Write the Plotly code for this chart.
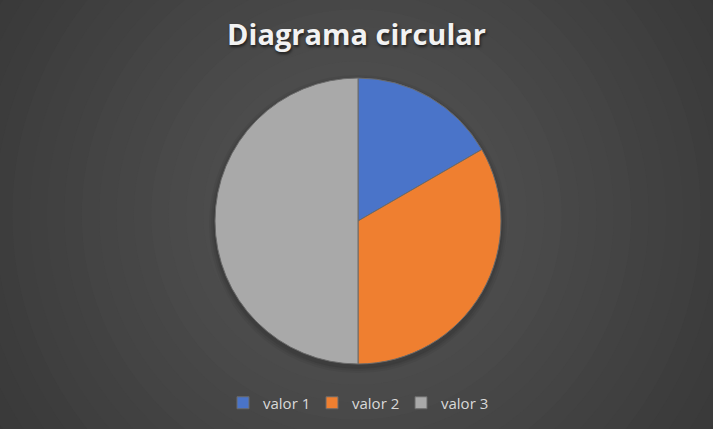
import plotly.graph_objects as go

labels = ["valor 1", "valor 2", "valor 3"]
values = [1, 2, 3]
colors = ["#4A74C9", "#EF7F30", "#A9A9A9"]

W, H = 713, 429

fig = go.Figure()
fig.add_trace(go.Pie(
    labels=labels, values=values, sort=False, direction="clockwise", rotation=0,
    marker=dict(colors=colors, line=dict(color="#6a6a6a", width=1)),
    textinfo="none", hoverinfo="label+value+percent",
    domain=dict(x=[215 / W, 501 / W], y=[65 / H, 351 / H]),
))

# radial gradient background made of concentric ellipses
shapes = []
n = 40
outer, inner = (0x26, 0x26, 0x26), (0x57, 0x57, 0x57)
for i in range(n):
    t = i / (n - 1)
    r = 0.95 * (1 - t) + 0.02
    c = tuple(int(outer[k] + (inner[k] - outer[k]) * t) for k in range(3))
    shapes.append(dict(type="circle", xref="paper", yref="paper", layer="below",
                       x0=0.5 - r, x1=0.5 + r, y0=0.5 - r * W / H, y1=0.5 + r * W / H,
                       fillcolor="rgb(%d,%d,%d)" % c, line=dict(width=0)))
# soft shadow under pie
for j, a in enumerate([0.05, 0.06, 0.08]):
    d = (3 - j) * 2
    shapes.append(dict(type="circle", xref="paper", yref="paper", layer="below",
                       x0=(215 - d) / W, x1=(501 + d) / W,
                       y0=(65 - 3 - d) / H, y1=(351 - 3 + d) / H,
                       fillcolor="rgba(0,0,0,%.2f)" % a, line=dict(width=0)))

fig.update_layout(
    width=W, height=H,
    margin=dict(l=0, r=0, t=0, b=0),
    paper_bgcolor="#262626",
    shapes=shapes,
    title=dict(text="Diagrama circular", x=0.5, xanchor="center", y=1 - 35 / H, yanchor="middle",
               font=dict(family="Open Sans", size=29, color="#f2f2f2", weight="bold",
                         shadow="1px 2px 3px rgba(0,0,0,0.6)")),
    legend=dict(orientation="h", x=0.5, xanchor="center", y=1 - 403 / H, yanchor="middle",
                font=dict(family="Open Sans", size=15, color="#d9d9d9"),
                bgcolor="rgba(0,0,0,0)", entrywidth=44, entrywidthmode="pixels",
                traceorder="normal"),
    showlegend=True,
)

fig.write_html("out.html")
